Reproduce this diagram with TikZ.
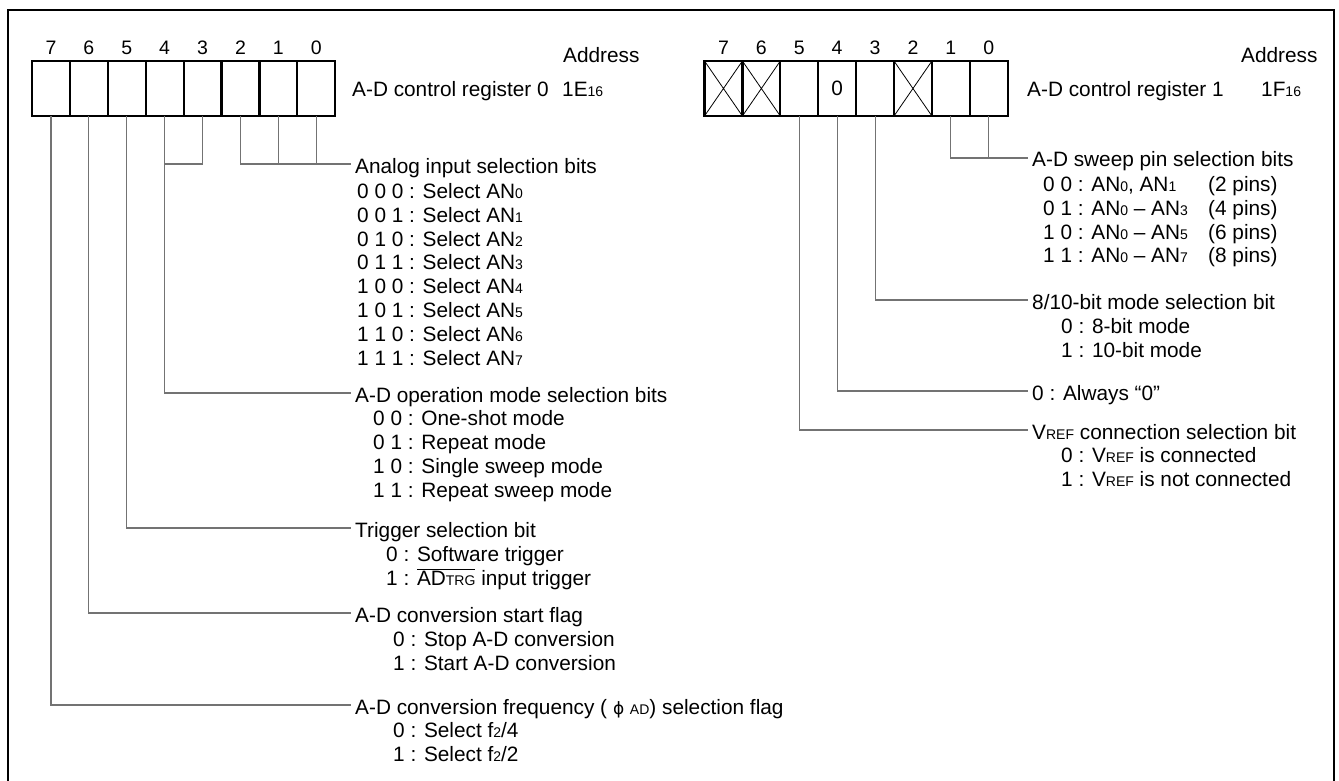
\documentclass[tikz,border=0pt]{standalone}
\usepackage{fontspec}
\setmainfont{Liberation Sans}
\newfontfamily\symfont{DejaVu Sans}
\newcommand\smallsub[1]{{\fontsize{14}{14}\selectfont #1}}

\begin{document}
\begin{tikzpicture}[x=1pt, y=-1pt, font=\fontsize{20.8}{23.8}\selectfont,
  cell/.style={draw, line width=2.2pt, minimum width=37.9pt, minimum height=55pt, inner sep=0pt, outer sep=0pt},
  bitno/.style={anchor=base, inner sep=0pt, font=\fontsize{19.5}{19.5}\selectfont},
  ttl/.style={anchor=west, inner xsep=4pt, inner ysep=0pt, text height=18pt, text depth=0pt},
  opt/.style={anchor=base west, inner sep=0pt},
  lead/.style={draw=black!55, line width=1.1pt}]
  \useasboundingbox (0,0) rectangle (1339,781);

  % frame (open at the bottom)
  \draw[line width=2.6pt] (8,781) -- (8,10) -- (1334,10) -- (1334,781);

  % register cells and bit numbers
  \foreach \b in {0,...,7} {
    \node[cell] (r0c\b) at ({32+37.9*(7.5-\b)}, 88.5) {};
    \node[bitno] (r0n\b) at ({32+37.9*(7.5-\b)}, 55) {\b};
    \node[cell] (r1c\b) at ({704.5+37.9*(7.5-\b)}, 88.5) {};
    \node[bitno] (r1n\b) at ({704.5+37.9*(7.5-\b)}, 55) {\b};
  }
  % unused bits of register 1
  \foreach \b in {7,6,2}
    \draw[line width=0.8pt] (r1c\b.north west) -- (r1c\b.south east) (r1c\b.south west) -- (r1c\b.north east);
  \node (r1z) at (r1c4) {0};

  % register names and addresses
  \node[opt] (a0) at (563,63) {Address};
  \node[opt] (reg0) at (352,97) {A-D control register 0};
  \node[opt] (adr0) at (562,97) {1E\smallsub{16}};
  \node[opt] (a1) at (1241,63) {Address};
  \node[opt] (reg1) at (1027,97) {A-D control register 1};
  \node[opt] (adr1) at (1261,97) {1F\smallsub{16}};

  % register 0 bit fields
  \node[ttl] (tAn) at (351,164) {Analog input selection bits};
  \foreach \v [count=\i from 0] in {0 0 0,0 0 1,0 1 0,0 1 1,1 0 0,1 0 1,1 1 0,1 1 1}
    \node[opt] (an\i) at (357,{198.5+23.8*\i}) {\v{} : Select AN\smallsub{\i}};

  \node[ttl] (tOp) at (351,393) {A-D operation mode selection bits};
  \node[opt] (op0) at (373,425) {0 0 : One-shot mode};
  \node[opt] (op1) at (373,449) {0 1 : Repeat mode};
  \node[opt] (op2) at (373,473) {1 0 : Single sweep mode};
  \node[opt] (op3) at (373,497) {1 1 : Repeat sweep mode};

  \node[ttl] (tTr) at (351,528) {Trigger selection bit};
  \node[opt] (tr0) at (386,561) {0 : Software trigger};
  \node[opt] (tr1) at (386,585) {1 : $\overline{\mbox{AD\smallsub{TRG}}}$ input trigger};

  \node[ttl] (tSt) at (351,613) {A-D conversion start flag};
  \node[opt] (st0) at (393,646) {0 : Stop A-D conversion};
  \node[opt] (st1) at (393,670) {1 : Start A-D conversion};

  \node[ttl] (tFr) at (351,705) {A-D conversion frequency ( {\symfont\fontsize{17}{17}\selectfont ϕ} \smallsub{AD}) selection flag};
  \node[opt] (fr0) at (393,737) {0 : Select f\smallsub{2}/4};
  \node[opt] (fr1) at (393,761) {1 : Select f\smallsub{2}/2};

  % register 1 bit fields
  \node[ttl] (tSw) at (1028,158) {A-D sweep pin selection bits};
  \node[opt] (sw0) at (1043,191) {\makebox[165pt][l]{0 0 : AN\smallsub{0}, AN\smallsub{1}}(2 pins)};
  \node[opt] (sw1) at (1043,215) {\makebox[165pt][l]{0 1 : AN\smallsub{0} – AN\smallsub{3}}(4 pins)};
  \node[opt] (sw2) at (1043,239) {\makebox[165pt][l]{1 0 : AN\smallsub{0} – AN\smallsub{5}}(6 pins)};
  \node[opt] (sw3) at (1043,262.5) {\makebox[165pt][l]{1 1 : AN\smallsub{0} – AN\smallsub{7}}(8 pins)};

  \node[ttl] (tMo) at (1028,300) {8/10-bit mode selection bit};
  \node[opt] (mo0) at (1061,333) {0 : 8-bit mode};
  \node[opt] (mo1) at (1061,357) {1 : 10-bit mode};

  \node[ttl] (tAl) at (1028,391) {0 : Always “0”};

  \node[ttl] (tVr) at (1028,430) {V\smallsub{REF} connection selection bit};
  \node[opt] (vr0) at (1061,462.5) {0 : V\smallsub{REF} is connected};
  \node[opt] (vr1) at (1061,486) {1 : V\smallsub{REF} is not connected};

  % leaders, register 0
  \draw[lead] (r0c2.south) |- (tAn.west);
  \draw[lead] (r0c1.south) -- (r0c1.south |- tAn.west);
  \draw[lead] (r0c0.south) -- (r0c0.south |- tAn.west);
  \draw[lead] (r0c3.south) |- (r0c4.south |- tAn.west);
  \draw[lead] (r0c4.south) |- (tOp.west);
  \draw[lead] (r0c5.south) |- (tTr.west);
  \draw[lead] (r0c6.south) |- (tSt.west);
  \draw[lead] (r0c7.south) |- (tFr.west);

  % leaders, register 1
  \draw[lead] (r1c1.south) |- (tSw.west);
  \draw[lead] (r1c0.south) -- (r1c0.south |- tSw.west);
  \draw[lead] (r1c3.south) |- (tMo.west);
  \draw[lead] (r1c4.south) |- (tAl.west);
  \draw[lead] (r1c5.south) |- (tVr.west);
\end{tikzpicture}
\end{document}
